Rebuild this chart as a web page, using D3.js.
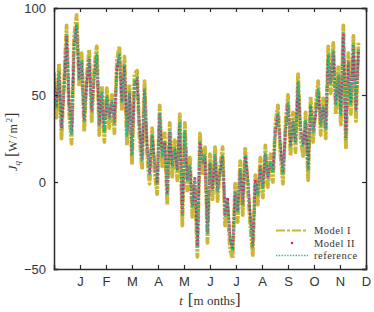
<!DOCTYPE html>
<html><head><meta charset="utf-8">
<script src="https://cdn.jsdelivr.net/npm/d3@7"></script>
<style>body{margin:0;background:#fff}svg{display:block}</style>
</head><body>
<script>
// x axis in days; month ticks every 31 days
const monthTicks = [31,62,93,124,155,186,217,248,279,310,341,372];
const monthLabels = ["J","F","M","A","M","J","J","A","S","O","N","D"];
const yTicks = [-50,0,50,100];
const stepDays = 3;
const reference = [60,42,64,30,55,85,44,27,80,91,58,70,34,58,72,40,62,74,32,52,28,50,36,47,33,66,74,45,68,26,52,15,58,60,30,12,54,20,4,28,10,-2,40,14,24,-8,30,8,20,6,35,-20,30,0,10,-15,2,-38,24,10,16,-30,12,-5,16,-6,5,16,-20,-10,-34,-40,-5,-18,8,-14,16,2,-20,-38,0,-8,10,-4,17,2,12,5,30,40,20,4,30,46,20,36,22,58,30,20,36,6,45,28,40,54,32,44,30,74,56,76,44,62,38,86,24,70,44,80,40,76];
const modelI = [63,37,68,25,58,90,40,22,84,96,55,74,29,61,76,35,66,78,27,55,23,54,31,50,28,70,78,41,72,21,56,10,62,64,26,7,58,15,-1,31,5,-7,44,9,28,-13,34,3,24,1,39,-25,34,-5,14,-20,-3,-43,28,5,20,-35,16,-10,20,-11,9,20,-25,-15,-39,-44,-1,-23,12,-19,20,-3,-25,-42,4,-13,14,-9,21,-3,16,0,34,44,16,-1,34,50,15,40,17,62,25,15,40,1,49,23,44,58,27,48,25,78,51,80,39,66,33,90,19,74,39,84,35,80];
const modelII = [59,43,63,31,54,84,45,28,79,90,59,69,35,57,71,41,61,73,33,51,29,49,37,46,34,65,73,46,67,27,51,16,57,59,31,13,53,21,5,27,11,-1,39,15,23,-7,29,9,19,7,34,-19,29,1,9,-14,3,-37,23,11,15,-29,11,-4,15,-5,6,15,-19,-9,-33,-39,-6,-17,7,-13,15,3,-19,-37,1,-7,9,-3,16,3,11,6,29,39,21,5,29,45,21,35,23,57,31,21,35,7,44,29,39,53,33,43,31,73,57,75,45,61,39,85,25,69,45,79,41,75];
const seriesNames = ["Model I","Model II","reference"];

const W=374,H=312;
const m={l:54,r:8,t:8,b:43};
const colGold="#cdb538", colPink="#ee1a7c", colGreen="#22c47c", axisCol="#2a2a2a";
const svg=d3.select("body").append("svg").attr("width",W).attr("height",H);
const x=d3.scaleLinear().domain([0,372]).range([m.l,W-m.r]);
const y=d3.scaleLinear().domain([-50,100]).range([H-m.b,m.t]);

svg.append("clipPath").attr("id","plotclip").append("rect")
  .attr("x",x(0)).attr("y",y(100)).attr("width",x(372)-x(0)).attr("height",y(-50)-y(100));

const line=d3.line().x((d,i)=>x(i*stepDays)).y(d=>y(d));
const g=svg.append("g").attr("clip-path","url(#plotclip)");
g.append("path").datum(modelI).attr("d",line).attr("fill","none")
  .attr("stroke",colGold).attr("stroke-width",3.8).attr("stroke-dasharray","8,1.2,2.5,1.2").attr("stroke-linejoin","round");
g.append("path").datum(modelII).attr("d",line).attr("fill","none")
  .attr("stroke",colPink).attr("stroke-width",2.6).attr("stroke-dasharray","2.5,1.2");
g.append("path").datum(reference).attr("d",line).attr("fill","none")
  .attr("stroke",colGreen).attr("stroke-width",2.4).attr("stroke-dasharray","2,2");

// axes (box with inward ticks)
const tl=4;
const axB=svg.append("g").attr("transform",`translate(0,${y(-50)})`)
  .call(d3.axisBottom(x).tickValues(monthTicks).tickFormat((d,i)=>monthLabels[i]).tickSize(-tl).tickPadding(8));
const axT=svg.append("g").attr("transform",`translate(0,${y(100)})`)
  .call(d3.axisTop(x).tickValues(monthTicks).tickFormat("").tickSize(-tl));
const axL=svg.append("g").attr("transform",`translate(${x(0)},0)`)
  .call(d3.axisLeft(y).tickValues(yTicks).tickSize(-tl).tickPadding(8));
const axR=svg.append("g").attr("transform",`translate(${x(372)},0)`)
  .call(d3.axisRight(y).tickValues(yTicks).tickFormat("").tickSize(-tl));
[axB,axT,axL,axR].forEach(a=>{
  a.select(".domain").attr("stroke",axisCol).attr("stroke-width",1.5);
  a.selectAll(".tick line").attr("stroke",axisCol).attr("stroke-width",1.2);
  a.selectAll("text").attr("font-family","Liberation Sans, Arial, sans-serif").attr("font-size",13).attr("fill","#333");
});

// axis labels
const serif="Liberation Serif, DejaVu Serif, serif";
const yl=svg.append("text").attr("transform",`translate(17,142) rotate(-90)`)
  .attr("text-anchor","middle").attr("font-family",serif).attr("font-size",13).attr("fill","#333");
yl.append("tspan").attr("font-style","italic").text("J");
yl.append("tspan").attr("font-style","italic").attr("font-size",9).attr("dy",3).text("q");
yl.append("tspan").attr("dy",-3).attr("dx",4).attr("font-size",16).text("[");
yl.append("tspan").attr("letter-spacing",1.8).attr("font-size",12).text("W/m");
yl.append("tspan").attr("font-size",8.5).attr("dy",-5).text("2");
yl.append("tspan").attr("dy",5).attr("font-size",16).text("]");

const xl=svg.append("text").attr("x",210).attr("y",305).attr("text-anchor","middle")
  .attr("font-family",serif).attr("font-size",13).attr("fill","#333");
xl.append("tspan").attr("font-style","italic").text("t");
xl.append("tspan").attr("dx",5).attr("font-size",17).text("[");
xl.append("tspan").attr("font-size",13).text("m onths");
xl.append("tspan").attr("font-size",17).text("]");

// legend
const leg=svg.append("g");
const rows=[230.5,243,255.5];
const lx0=276,lx1=308;
leg.append("line").attr("x1",lx0).attr("x2",lx1).attr("y1",rows[0]).attr("y2",rows[0])
  .attr("stroke",colGold).attr("stroke-width",2).attr("stroke-dasharray","9,2,3,2");
leg.append("circle").attr("cx",(lx0+lx1)/2).attr("cy",rows[1]).attr("r",1.3).attr("fill",colPink);
leg.append("line").attr("x1",lx0).attr("x2",lx1).attr("y1",rows[2]).attr("y2",rows[2])
  .attr("stroke",colGreen).attr("stroke-width",1.6).attr("stroke-dasharray","1.4,1.4");
seriesNames.forEach((n,i)=>{
  leg.append("text").attr("x",314).attr("y",rows[i]+3.5).attr("font-family",serif)
    .attr("font-size",10.5).attr("letter-spacing",0.5).attr("fill","#333").text(n);
});
</script>
</body></html>
